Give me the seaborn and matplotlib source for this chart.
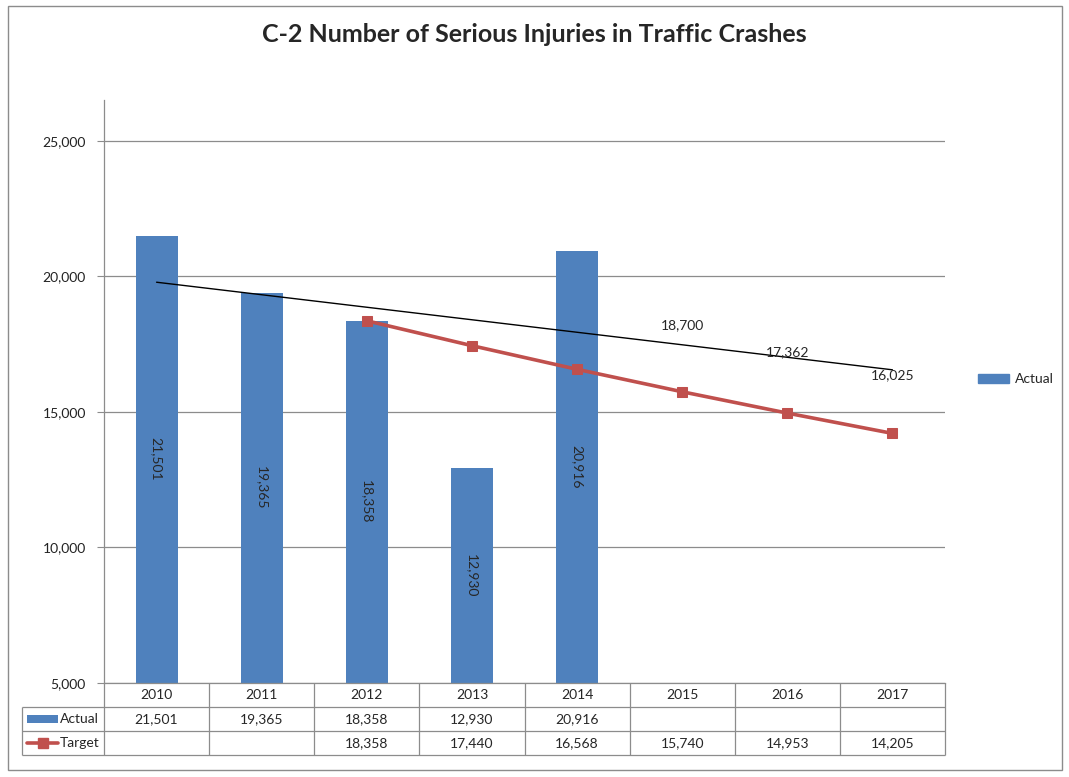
import pandas as pd
import matplotlib.pyplot as plt
import seaborn as sns
from matplotlib.patches import Rectangle, Patch
from matplotlib.ticker import FuncFormatter

# data
years = ['2010', '2011', '2012', '2013', '2014', '2015', '2016', '2017']
actual_years = ['2010', '2011', '2012', '2013', '2014']
actual = [21501, 19365, 18358, 12930, 20916]
target_years = ['2012', '2013', '2014', '2015', '2016', '2017']
target = [18358, 17440, 16568, 15740, 14953, 14205]
trend_years = ['2010', '2017']
trend = [19780, 16550]
avg_years = ['2015', '2016', '2017']
avg_vals = [18700, 17362, 16025]

sns.set_style("white")
plt.rcParams['font.family'] = ['Lato', 'DejaVu Sans']

blue = '#4F81BD'
red = '#C0504D'
grid = '#8c8c8c'
fs = 10

W, H = 1069, 777
fig = plt.figure(figsize=(W / 100, H / 100), dpi=100)
L, R, T, B = 104, 945, 100, 683
ax = fig.add_axes([L / W, 1 - B / H, (R - L) / W, (B - T) / H])

df = pd.DataFrame({'year': actual_years, 'value': actual})
sns.barplot(data=df, x='year', y='value', order=years, color=blue,
            width=0.4, saturation=1, linewidth=0, ax=ax, zorder=2)

pos = [years.index(y) for y in target_years]
sns.lineplot(x=pos, y=target, color=red, lw=2.6, marker='s', markersize=7,
             markeredgecolor=red, ax=ax, zorder=4)

tpos = [years.index(y) for y in trend_years]
sns.lineplot(x=tpos, y=trend, color='black', lw=1, ax=ax, zorder=3)

# bar labels, rotated, centered in the visible bar
for y, v in zip(actual_years, actual):
    ax.text(years.index(y), (5000 + v) / 2, f"{v:,}", rotation=270,
            ha='center', va='center', fontsize=fs, zorder=5)

# labels of the average values (hand-placed in the original)
label_shift = [-490, -150, 340]
for y, v, s in zip(avg_years, avg_vals, label_shift):
    ax.text(years.index(y), v + s, f"{v:,}", ha='center', va='center',
            fontsize=fs, zorder=5)

ax.set_xlim(-0.5, 7.5)
ax.set_ylim(5000, 26500)
ax.set_yticks(range(5000, 25001, 5000))
ax.yaxis.set_major_formatter(FuncFormatter(lambda v, p: f"{int(v):,}"))
ax.yaxis.grid(True, color=grid, lw=0.9, zorder=0)
ax.set_axisbelow(True)
ax.tick_params(axis='y', left=True, length=5, color=grid, labelsize=fs,
               labelcolor='#222222', pad=8)
ax.tick_params(axis='x', bottom=False, labelbottom=False)
ax.set_xlabel('')
ax.set_ylabel('')
for s in ['top', 'right']:
    ax.spines[s].set_visible(False)
for s in ['left', 'bottom']:
    ax.spines[s].set_color(grid)
    ax.spines[s].set_linewidth(0.9)

# data table under the plot
cell = (R - L) / 8
left_edge = -0.5 - (L - 22) / cell
tax = fig.add_axes([22 / W, 1 - 755 / H, (R - 22) / W, 72 / H])
tax.set_xlim(left_edge, 7.5)
tax.set_ylim(3, 0)
tax.axis('off')
tax.hlines([1, 2, 3], left_edge, 7.5, color=grid, lw=0.9, clip_on=False)
tax.vlines([k - 0.5 for k in range(9)], 0, 3, color=grid, lw=0.9, clip_on=False)
tax.vlines([left_edge], 1, 3, color=grid, lw=0.9, clip_on=False)

act_map = dict(zip(actual_years, actual))
tgt_map = dict(zip(target_years, target))
for i, y in enumerate(years):
    tax.text(i, 0.5, y, ha='center', va='center', fontsize=fs)
    if y in act_map:
        tax.text(i, 1.5, f"{act_map[y]:,}", ha='center', va='center', fontsize=fs)
    if y in tgt_map:
        tax.text(i, 2.5, f"{tgt_map[y]:,}", ha='center', va='center', fontsize=fs)

k0 = left_edge + 5 / cell
k1 = left_edge + 36 / cell
tax.add_patch(Rectangle((k0, 1.33), k1 - k0, 0.34, color=blue, lw=0))
tax.plot([k0, k1], [2.5, 2.5], color=red, lw=2.6)
tax.plot([(k0 + k1) / 2], [2.5], marker='s', color=red, markersize=7)
tax.text(k1 + 2 / cell, 1.5, 'Actual', ha='left', va='center', fontsize=fs)
tax.text(k1 + 2 / cell, 2.5, 'Target', ha='left', va='center', fontsize=fs)

fig.legend(handles=[Patch(color=blue, label='Actual')], loc='center left',
           bbox_to_anchor=(966 / W, 1 - 379 / H), frameon=False,
           fontsize=fs, handlelength=2.2, handleheight=0.6, handletextpad=0.4)

fig.text(0.5, 1 - 35 / H, 'C-2 Number of Serious Injuries in Traffic Crashes',
         ha='center', va='center', fontsize=18, fontweight='bold')

fig.patches.append(Rectangle((8 / W, 7 / H), (1062 - 8) / W, (771 - 7) / H,
                             transform=fig.transFigure, fill=False,
                             edgecolor='#8c8c8c', lw=1))

fig.savefig('out.png', dpi=100)
